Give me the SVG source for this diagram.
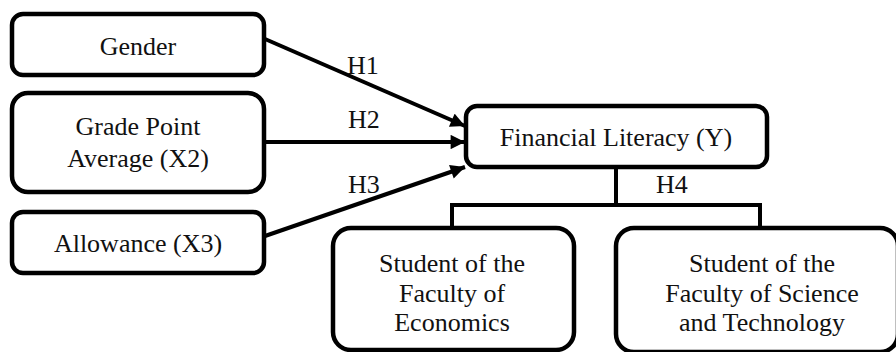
<svg xmlns="http://www.w3.org/2000/svg" width="896" height="352" viewBox="0 0 896 352">
<style>
.box{fill:#fff;stroke:#000;stroke-width:4.5}
.t{font-family:"Liberation Serif","Times New Roman",serif;font-size:26px;fill:#111;text-anchor:middle}
.l{font-family:"Liberation Serif","Times New Roman",serif;font-size:26px;fill:#111}
.c{fill:none;stroke:#000;stroke-width:4}
</style>
<defs>
<marker id="ah" viewBox="0 0 10 10" refX="10" refY="5" markerWidth="4" markerHeight="3.6" orient="auto" markerUnits="strokeWidth">
<path d="M0,0 L10,5 L0,10 z" fill="#000"/>
</marker>
</defs>
<rect width="896" height="352" fill="#fff"/>
<g id="connectors">
<line class="c" x1="265" y1="39" x2="465" y2="126" marker-end="url(#ah)"/>
<line class="c" x1="265" y1="142" x2="465" y2="142" marker-end="url(#ah)"/>
<line class="c" x1="265" y1="236" x2="465" y2="167" marker-end="url(#ah)"/>
<polyline class="c" points="616,167 616,205"/>
<polyline class="c" points="452,228 452,205 760,205 760,228"/>
<text class="l" x="347" y="74">H1</text>
<text class="l" x="348" y="128">H2</text>
<text class="l" x="348" y="193">H3</text>
<text class="l" x="656" y="193">H4</text>
</g>
<g id="gender">
<rect class="box" x="12" y="14" width="252" height="61" rx="11"/>
<text class="t" x="138" y="55">Gender</text>
</g>
<g id="gpa">
<rect class="box" x="12" y="93" width="252" height="99" rx="16"/>
<text class="t" x="138" y="135">Grade Point</text>
<text class="t" x="138" y="167">Average (X2)</text>
</g>
<g id="allowance">
<rect class="box" x="12" y="212" width="252" height="61" rx="11"/>
<text class="t" x="138" y="252">Allowance (X3)</text>
</g>
<g id="financial">
<rect class="box" x="466" y="106" width="301" height="61" rx="11"/>
<text class="t" x="616" y="146">Financial Literacy (Y)</text>
</g>
<g id="economics">
<rect class="box" x="333" y="228" width="241" height="122" rx="18"/>
<text class="t" x="452" y="272">Student of the</text>
<text class="t" x="452" y="302">Faculty of</text>
<text class="t" x="452" y="331">Economics</text>
</g>
<g id="science">
<rect class="box" x="616" y="228" width="282" height="124" rx="18"/>
<text class="t" x="762" y="272">Student of the</text>
<text class="t" x="762" y="302">Faculty of Science</text>
<text class="t" x="762" y="331">and Technology</text>
</g>
</svg>
